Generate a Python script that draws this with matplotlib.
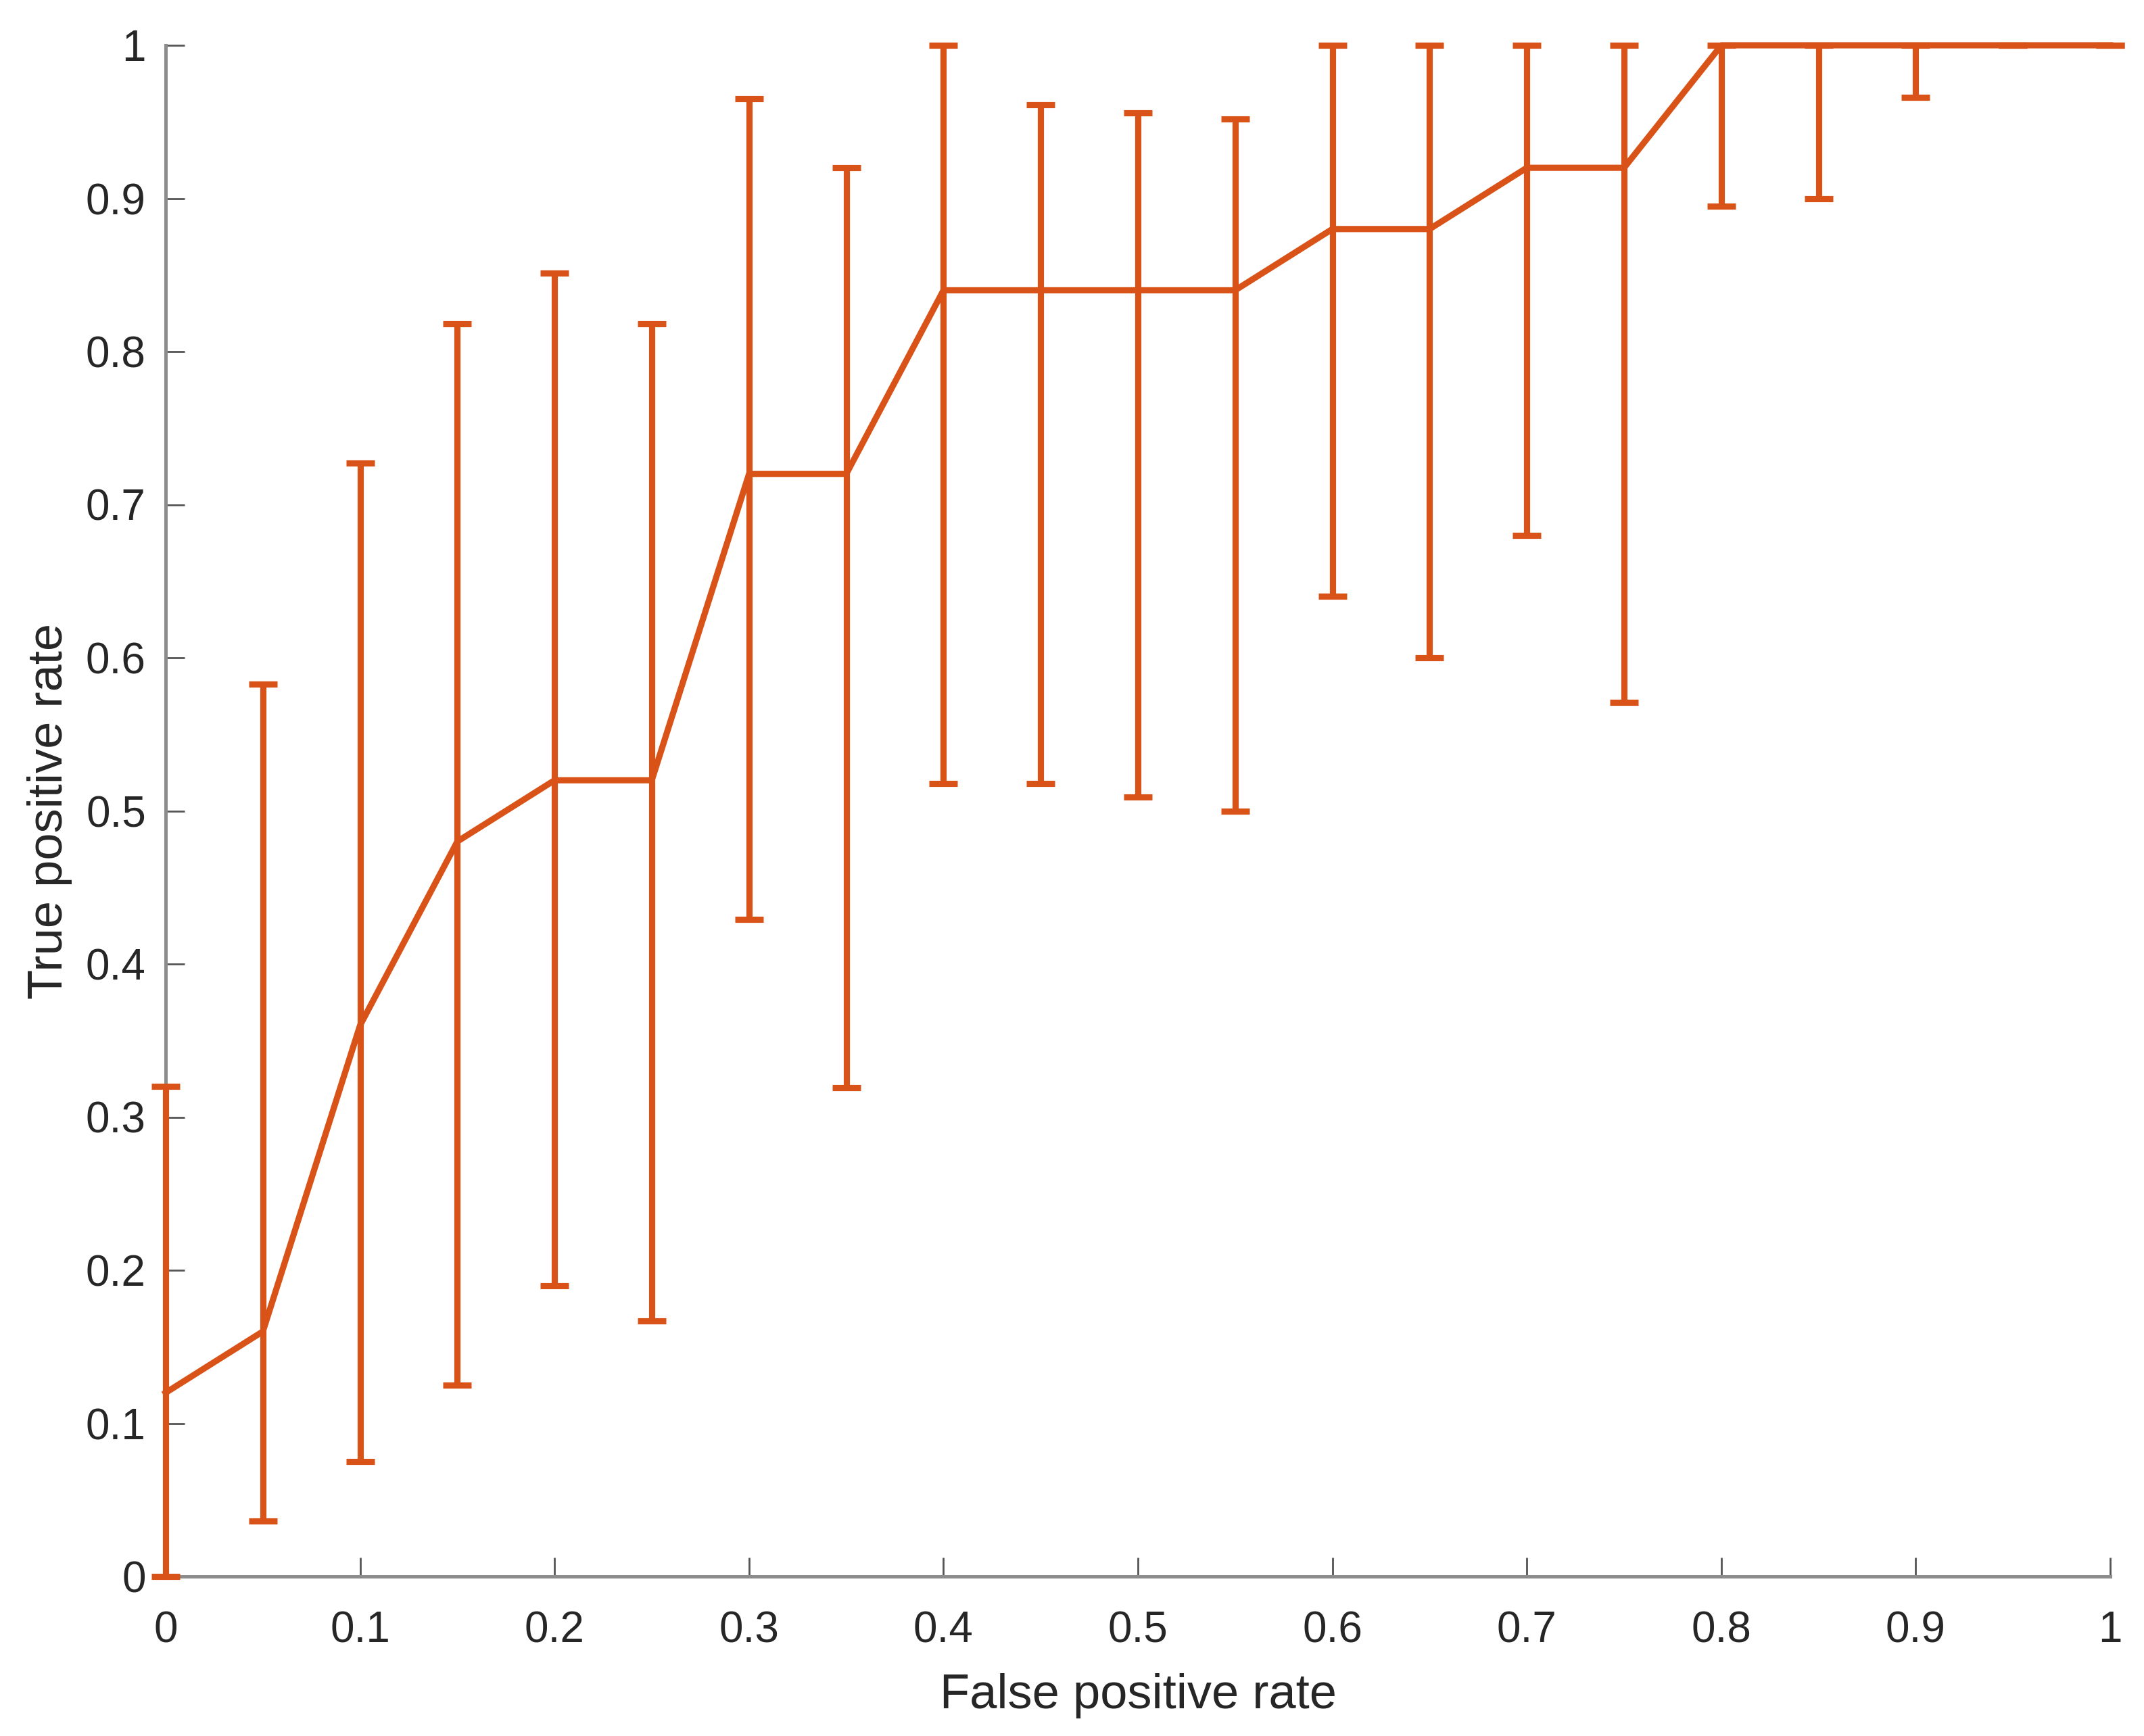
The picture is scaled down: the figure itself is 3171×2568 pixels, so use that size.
import matplotlib
matplotlib.use("Agg")
import matplotlib.pyplot as plt
import numpy as np

fpr = [0.0, 0.05, 0.10, 0.15, 0.20, 0.25, 0.30, 0.35, 0.40, 0.45, 0.50,
       0.55, 0.60, 0.65, 0.70, 0.75, 0.80, 0.85, 0.90, 0.95, 1.0]
tpr = [0.12, 0.16, 0.36, 0.48, 0.52, 0.52, 0.72, 0.72, 0.84, 0.84, 0.84,
       0.84, 0.88, 0.88, 0.92, 0.92, 1.0, 1.0, 1.0, 1.0, 1.0]
lower_bound = [0.0, 0.036, 0.075, 0.125, 0.19, 0.167, 0.429, 0.319, 0.518, 0.518, 0.509,
               0.50, 0.64, 0.60, 0.68, 0.571, 0.895, 0.90, 0.966, 1.0, 1.0]
upper_bound = [0.32, 0.583, 0.727, 0.818, 0.851, 0.818, 0.965, 0.92, 1.0, 0.961, 0.956,
               0.952, 1.0, 1.0, 1.0, 1.0, 1.0, 1.0, 1.0, 1.0, 1.0]
xticks = [0, 0.1, 0.2, 0.3, 0.4, 0.5, 0.6, 0.7, 0.8, 0.9, 1]
yticks = [0, 0.1, 0.2, 0.3, 0.4, 0.5, 0.6, 0.7, 0.8, 0.9, 1]
tick_labels = ["0", "0.1", "0.2", "0.3", "0.4", "0.5", "0.6", "0.7", "0.8", "0.9", "1"]

plt.rcParams['font.family'] = ['Liberation Sans', 'DejaVu Sans']

W, H, DPI = 3171, 2568, 200
fig = plt.figure(figsize=(W / DPI, H / DPI), dpi=DPI)
ax = fig.add_axes([245 / W, 1 - 2332 / H, (3121 - 245) / W, (2332 - 67) / H])

color = '#D95319'
y = np.array(tpr)
yerr = np.array([y - np.array(lower_bound), np.array(upper_bound) - y])
cont = ax.errorbar(fpr, tpr, yerr=yerr, color=color, lw=3.3, elinewidth=3.3,
                   capsize=7.5, capthick=3.3, clip_on=False, zorder=3)
cont.lines[0].set_clip_on(False)
for art in cont.lines[1]:
    art.set_clip_on(False)
for art in cont.lines[2]:
    art.set_clip_on(False)

ax.set_xlim(0, 1)
ax.set_ylim(0, 1)
ax.set_xticks(xticks)
ax.set_xticklabels(tick_labels)
ax.set_yticks(yticks)
ax.set_yticklabels(tick_labels)

for s in ['top', 'right']:
    ax.spines[s].set_visible(False)
for s in ['left', 'bottom']:
    ax.spines[s].set_color('#8c8c8c')
    ax.spines[s].set_linewidth(1.8)

ax.tick_params(direction='in', length=10, width=1.0, color='#555555',
               labelsize=23, labelcolor='#262626')
ax.tick_params(axis='x', pad=18)
ax.tick_params(axis='y', pad=10.5)

ax.set_xlabel('False positive rate', fontsize=26, color='#262626', labelpad=12)
ax.set_ylabel('True positive rate', fontsize=26, color='#262626', labelpad=7)

fig.savefig('out.png', dpi=DPI, facecolor='white')
